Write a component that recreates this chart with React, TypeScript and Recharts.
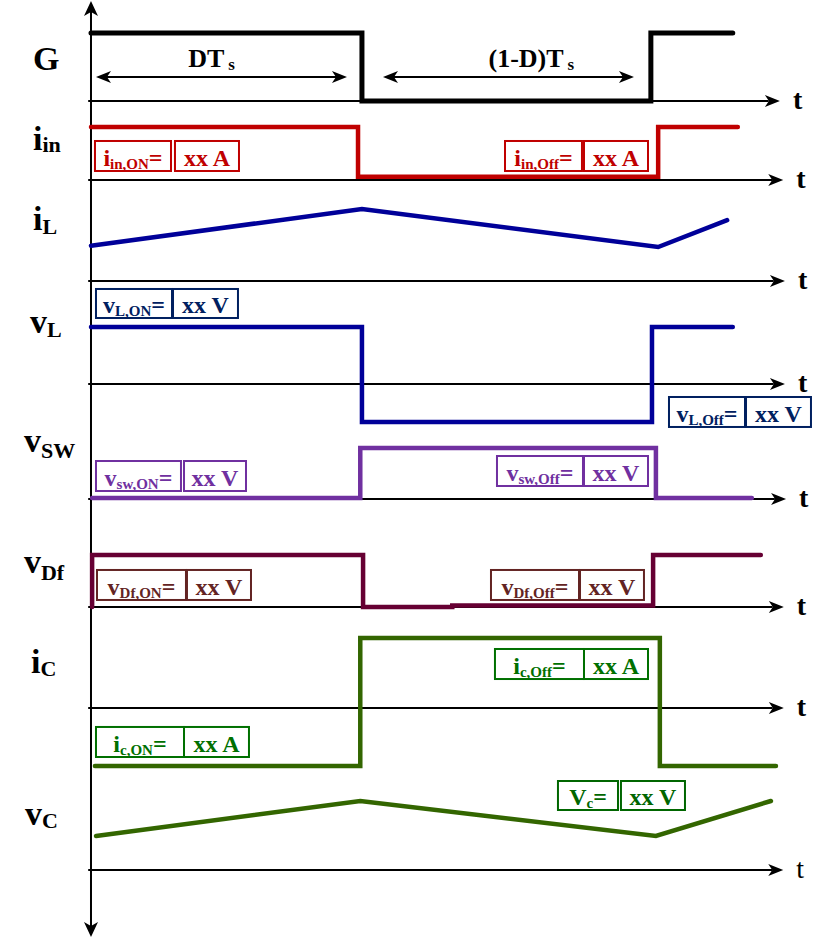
import React from "react";
import {
  ComposedChart,
  Line,
  XAxis,
  YAxis,
  ReferenceLine,
  ReferenceDot,
  ReferenceArea,
} from "recharts";

// ---------- chart size ----------
const W = 831;
const H = 938;

// ---------- time axis (one switching period Ts = 10 units, D ≈ 0.48) ----------
const T_MIN = -1.622;
const T_MAX = 13.191;

// ---------- waveform data (time, level) ----------
const gTime = [0, 4.83, 4.83, 9.98, 9.98, 11.44];
const gLevel = [1, 1, 0, 0, 1, 1];

const iinTime = [0, 4.76, 4.76, 10.11, 10.11, 11.53];
const iinLevel = [1, 1, 0.06, 0.06, 1, 1];

const iLTime = [0, 4.83, 10.11, 11.34];
const iLLevel = [0.44, 0.9, 0.425, 0.76];

const vLTime = [0, 4.83, 4.83, 10.0, 10.0, 11.44];
const vLLevel = [1, 1, -0.667, -0.667, 1, 1];

const vswTime = [0.02, 4.8, 4.8, 10.07, 10.07, 11.78];
const vswLevel = [0.02, 0.02, 1, 1, 0.02, 0.02];

const vdfTime = [0.02, 0.02, 4.85, 4.85, 6.44, 6.44, 10.02, 10.02, 11.94];
const vdfLevel = [0, 1, 1, 0, 0, 0.03, 0.03, 1, 1];

const icTime = [0.07, 4.8, 4.8, 10.14, 10.14, 12.21];
const icLevel = [-0.83, -0.83, 1, 1, -0.83, -0.83];

const vcTime = [0.09, 4.8, 10.07, 12.12];
const vcLevel = [0.425, 0.8625, 0.425, 0.8625];

// ---------- interval annotations (G panel) ----------
const dtStart = [0.089, 5.205];
const dtEnd = [4.563, 9.679];
const dtLabels = ["DT", "(1-D)T"];
const dtLabelTime = [2.15, 7.85];

const FONT = "'Liberation Serif', 'Times New Roman', serif";

// ---------- panel layout ----------
type Panel = { id: string; base: number; unit: number; tip: number; tBold: boolean };
const PANELS: Panel[] = [
  { id: "g", base: 101, unit: 68, tip: 12.28, tBold: true },
  { id: "iin", base: 180, unit: 53, tip: 12.34, tBold: true },
  { id: "iL", base: 281, unit: 80, tip: 12.37, tBold: true },
  { id: "vL", base: 384, unit: 57, tip: 12.37, tBold: true },
  { id: "vsw", base: 499, unit: 51, tip: 12.39, tBold: true },
  { id: "vdf", base: 607, unit: 52, tip: 12.35, tBold: true },
  { id: "ic", base: 708, unit: 70, tip: 12.35, tBold: true },
  { id: "vc", base: 870, unit: 80, tip: 12.34, tBold: false },
];

const domainOf = (p: Panel): [number, number] => [-(H - p.base) / p.unit, p.base / p.unit];

const toRows = (ts: number[], vs: number[]) => ts.map((t, i) => ({ t, v: vs[i] }));

const SERIES = [
  { panel: "g", time: gTime, level: gLevel, color: "#000000", width: 5 },
  { panel: "iin", time: iinTime, level: iinLevel, color: "#C00000", width: 4.5 },
  { panel: "iL", time: iLTime, level: iLLevel, color: "#000099", width: 4.5 },
  { panel: "vL", time: vLTime, level: vLLevel, color: "#000099", width: 4.5 },
  { panel: "vsw", time: vswTime, level: vswLevel, color: "#7030A0", width: 4.5 },
  { panel: "vdf", time: vdfTime, level: vdfLevel, color: "#660033", width: 4.5 },
  { panel: "ic", time: icTime, level: icLevel, color: "#336600", width: 4.5 },
  { panel: "vc", time: vcTime, level: vcLevel, color: "#336600", width: 4.5 },
];

// left-hand signal names
const NAMES = [
  { panel: "g", main: "G", sub: "", x: 33, dy: -31, subDy: 0 },
  { panel: "iin", main: "i", sub: "in", x: 33, dy: -30, subDy: 2 },
  { panel: "iL", main: "i", sub: "L", x: 33, dy: -51, subDy: 4 },
  { panel: "vL", main: "v", sub: "L", x: 30, dy: -51, subDy: 4 },
  { panel: "vsw", main: "v", sub: "SW", x: 24, dy: -47, subDy: 6 },
  { panel: "vdf", main: "v", sub: "Df", x: 24, dy: -34, subDy: 7 },
  { panel: "ic", main: "i", sub: "C", x: 31, dy: -35, subDy: 3 },
  { panel: "vc", main: "v", sub: "C", x: 25, dy: -45, subDy: 3 },
];

// value boxes
type Box = {
  panel: string; t1: number; t2: number; v1: number; v2: number;
  color: string; main: string; sub: string; tail: string;
};
const BOXES: Box[] = [
  { panel: "iin", t1: 0.071, t2: 1.426, v1: 0.17, v2: 0.736, color: "#C00000", main: "i", sub: "in,ON", tail: "=" },
  { panel: "iin", t1: 1.497, t2: 2.638, v1: 0.17, v2: 0.736, color: "#C00000", main: "xx A", sub: "", tail: "" },
  { panel: "iin", t1: 7.38, t2: 8.752, v1: 0.17, v2: 0.736, color: "#C00000", main: "i", sub: "in,Off", tail: "=" },
  { panel: "iin", t1: 8.788, t2: 9.929, v1: 0.17, v2: 0.736, color: "#C00000", main: "xx A", sub: "", tail: "" },

  { panel: "vL", t1: 0.089, t2: 1.444, v1: 1.158, v2: 1.667, color: "#002060", main: "v", sub: "L,ON", tail: "=" },
  { panel: "vL", t1: 1.462, t2: 2.62, v1: 1.158, v2: 1.667, color: "#002060", main: "xx V", sub: "", tail: "" },
  { panel: "vL", t1: 10.303, t2: 11.658, v1: -0.754, v2: -0.228, color: "#002060", main: "v", sub: "L,Off", tail: "=" },
  { panel: "vL", t1: 11.676, t2: 12.834, v1: -0.754, v2: -0.228, color: "#002060", main: "xx V", sub: "", tail: "" },

  { panel: "vsw", t1: 0.089, t2: 1.604, v1: 0.157, v2: 0.745, color: "#7030A0", main: "v", sub: "sw,ON", tail: "=" },
  { panel: "vsw", t1: 1.658, t2: 2.763, v1: 0.157, v2: 0.745, color: "#7030A0", main: "xx V", sub: "", tail: "" },
  { panel: "vsw", t1: 7.237, t2: 8.77, v1: 0.255, v2: 0.843, color: "#7030A0", main: "v", sub: "sw,Off", tail: "=" },
  { panel: "vsw", t1: 8.788, t2: 9.929, v1: 0.255, v2: 0.843, color: "#7030A0", main: "xx V", sub: "", tail: "" },

  { panel: "vdf", t1: 0.107, t2: 1.693, v1: 0.135, v2: 0.712, color: "#632423", main: "v", sub: "Df,ON", tail: "=" },
  { panel: "vdf", t1: 1.711, t2: 2.852, v1: 0.135, v2: 0.712, color: "#632423", main: "xx V", sub: "", tail: "" },
  { panel: "vdf", t1: 7.13, t2: 8.699, v1: 0.135, v2: 0.712, color: "#632423", main: "v", sub: "Df,Off", tail: "=" },
  { panel: "vdf", t1: 8.717, t2: 9.857, v1: 0.135, v2: 0.712, color: "#632423", main: "xx V", sub: "", tail: "" },

  { panel: "ic", t1: 0.089, t2: 1.658, v1: -0.7, v2: -0.271, color: "#007000", main: "i", sub: "c,ON", tail: "=" },
  { panel: "ic", t1: 1.658, t2: 2.816, v1: -0.7, v2: -0.271, color: "#007000", main: "xx A", sub: "", tail: "" },
  { panel: "ic", t1: 7.201, t2: 8.788, v1: 0.414, v2: 0.843, color: "#007000", main: "i", sub: "c,Off", tail: "=" },
  { panel: "ic", t1: 8.788, t2: 9.929, v1: 0.414, v2: 0.843, color: "#007000", main: "xx A", sub: "", tail: "" },

  { panel: "vc", t1: 8.324, t2: 9.394, v1: 0.75, v2: 1.1125, color: "#006600", main: "V", sub: "c", tail: "=" },
  { panel: "vc", t1: 9.447, t2: 10.588, v1: 0.75, v2: 1.1125, color: "#006600", main: "xx V", sub: "", tail: "" },
];

// ---------- shapes ----------
const arrowPts = (cx: number, cy: number, dx: number, dy: number, len = 15, half = 6, notch = 11) => {
  // dx,dy: unit direction of the arrow
  const px = -dy, py = dx;
  const bx = cx - dx * len, by = cy - dy * len;
  const nx = cx - dx * notch, ny = cy - dy * notch;
  return `${cx},${cy} ${bx + px * half},${by + py * half} ${nx},${ny} ${bx - px * half},${by - py * half}`;
};

const Rich = (props: any) => {
  const { x, y, main, sub, tail, size, subSize, subDy, color, anchor = "start", weight = "bold", subDx = 0 } = props;
  return (
    <text x={x} y={y} fill={color} fontFamily={FONT} fontWeight={weight} fontSize={size} textAnchor={anchor}>
      <tspan>{main}</tspan>
      {sub ? (
        <tspan fontSize={subSize} dy={subDy} dx={subDx}>
          {sub}
        </tspan>
      ) : null}
      {tail ? <tspan dy={sub ? -subDy : 0}>{tail}</tspan> : null}
    </text>
  );
};

export default function App() {
  return (
    <div style={{ position: "absolute", left: 0, top: 0, width: W, height: H, background: "#fff" }}>
      <ComposedChart width={W} height={H} margin={{ top: 0, right: 0, bottom: 0, left: 0 }}>
        <XAxis dataKey="t" type="number" domain={[T_MIN, T_MAX]} allowDataOverflow hide />
        <YAxis yAxisId="frame" type="number" domain={[0, 1]} allowDataOverflow hide />
        {PANELS.map((p) => (
          <YAxis key={p.id} yAxisId={p.id} type="number" domain={domainOf(p)} allowDataOverflow hide />
        ))}

        {/* vertical double arrow axis */}
        <ReferenceLine
          yAxisId="frame"
          segment={[{ x: 0, y: 0.004 }, { x: 0, y: 0.996 }]}
          stroke="#000"
          strokeWidth={2}
          ifOverflow="visible"
        />
        <ReferenceDot
          yAxisId="frame" x={0} y={1} ifOverflow="visible"
          shape={(pr: any) => <polygon points={arrowPts(pr.cx, pr.cy + 1, 0, -1, 15, 7, 11)} fill="#000" />}
        />
        <ReferenceDot
          yAxisId="frame" x={0} y={0} ifOverflow="visible"
          shape={(pr: any) => <polygon points={arrowPts(pr.cx, pr.cy - 1, 0, 1, 15, 7, 11)} fill="#000" />}
        />

        {/* time axes of every panel */}
        {PANELS.map((p) => (
          <ReferenceLine
            key={"ax" + p.id}
            yAxisId={p.id}
            segment={[{ x: -0.05, y: 0 }, { x: p.tip - 0.2, y: 0 }]}
            stroke="#000"
            strokeWidth={2}
            ifOverflow="visible"
          />
        ))}
        {PANELS.map((p) => (
          <ReferenceDot
            key={"tip" + p.id}
            yAxisId={p.id}
            x={p.tip}
            y={0}
            ifOverflow="visible"
            shape={(pr: any) => (
              <g>
                <polygon points={arrowPts(pr.cx, pr.cy, 1, 0, 15, 6, 11)} fill="#000" />
                <text
                  x={pr.cx + 13}
                  y={pr.cy + 8}
                  fontFamily={FONT}
                  fontWeight={p.tBold ? "bold" : "normal"}
                  fontSize={28}
                  fill="#000"
                >
                  t
                </text>
              </g>
            )}
          />
        ))}

        {/* DTs and (1-D)Ts interval arrows */}
        {dtStart.map((s, i) => (
          <ReferenceLine
            key={"dt" + i}
            yAxisId="g"
            segment={[{ x: s + 0.15, y: 0.353 }, { x: dtEnd[i] - 0.15, y: 0.353 }]}
            stroke="#000"
            strokeWidth={2}
            ifOverflow="visible"
          />
        ))}
        {dtStart.map((s, i) => (
          <ReferenceDot
            key={"dtl" + i} yAxisId="g" x={s} y={0.353} ifOverflow="visible"
            shape={(pr: any) => <polygon points={arrowPts(pr.cx, pr.cy, -1, 0, 15, 6, 11)} fill="#000" />}
          />
        ))}
        {dtEnd.map((e, i) => (
          <ReferenceDot
            key={"dtr" + i} yAxisId="g" x={e} y={0.353} ifOverflow="visible"
            shape={(pr: any) => <polygon points={arrowPts(pr.cx, pr.cy, 1, 0, 15, 6, 11)} fill="#000" />}
          />
        ))}
        {dtLabels.map((lab, i) => (
          <ReferenceDot
            key={"dtt" + i} yAxisId="g" x={dtLabelTime[i]} y={0.353} ifOverflow="visible"
            shape={(pr: any) => (
              <Rich x={pr.cx} y={pr.cy - 10} main={lab} sub="s" size={26} subSize={17} subDy={3} subDx={4}
                color="#000" anchor="middle" />
            )}
          />
        ))}

        {/* waveforms */}
        {SERIES.map((s) => (
          <Line
            key={"s" + s.panel}
            yAxisId={s.panel}
            data={toRows(s.time, s.level)}
            dataKey="v"
            type="linear"
            stroke={s.color}
            strokeWidth={s.width}
            strokeLinecap="round"
            strokeLinejoin="miter"
            dot={false}
            activeDot={false}
            isAnimationActive={false}
          />
        ))}

        {/* signal names */}
        {NAMES.map((n) => (
          <ReferenceDot
            key={"n" + n.panel}
            yAxisId={n.panel}
            x={0}
            y={0}
            ifOverflow="visible"
            shape={(pr: any) => (
              <Rich x={pr.cx + (n.x - 91)} y={pr.cy + n.dy} main={n.main} sub={n.sub} size={34} subSize={22}
                subDy={n.subDy} color="#000" />
            )}
          />
        ))}

        {/* value boxes */}
        {BOXES.map((b, i) => (
          <ReferenceArea
            key={"b" + i}
            yAxisId={b.panel}
            x1={b.t1}
            x2={b.t2}
            y1={b.v1}
            y2={b.v2}
            ifOverflow="visible"
            shape={(pr: any) => (
              <g>
                <rect x={pr.x} y={pr.y} width={pr.width} height={pr.height} fill="#fff" fillOpacity={0}
                  stroke={b.color} strokeWidth={2} />
                <Rich x={pr.x + pr.width / 2} y={pr.y + pr.height - 5} main={b.main} sub={b.sub} tail={b.tail}
                  size={24} subSize={15} subDy={3} color={b.color} anchor="middle" />
              </g>
            )}
          />
        ))}
      </ComposedChart>
    </div>
  );
}
